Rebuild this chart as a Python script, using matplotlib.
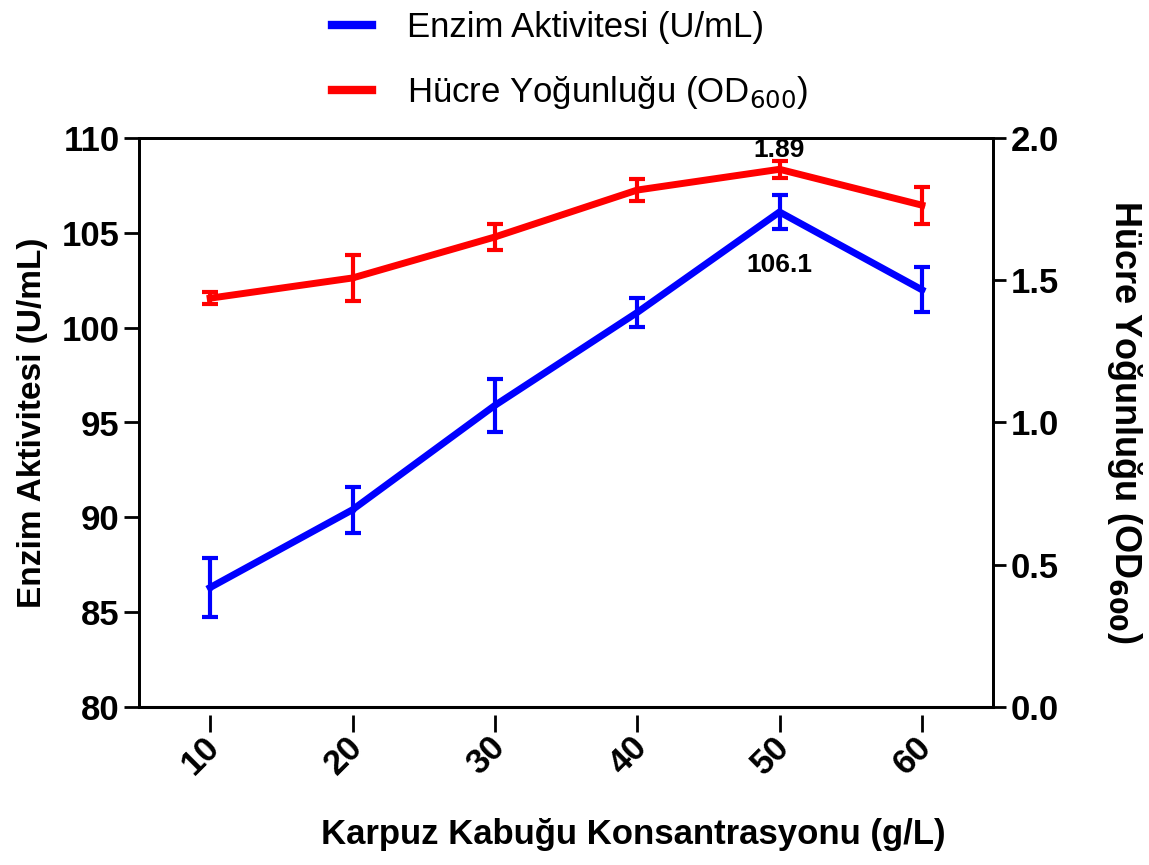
import matplotlib
matplotlib.use("Agg")
import matplotlib.pyplot as plt
import matplotlib.transforms as mtransforms
from matplotlib.lines import Line2D

conc = [10, 20, 30, 40, 50, 60]
enzim = [86.3, 90.4, 95.9, 100.8, 106.1, 102.0]
enzim_err = [1.55, 1.2, 1.4, 0.75, 0.9, 1.2]
od = [1.437, 1.508, 1.652, 1.817, 1.89, 1.764]
od_err = [0.02, 0.08, 0.045, 0.04, 0.03, 0.065]
xticks = [10, 20, 30, 40, 50, 60]
left_ticks = [80, 85, 90, 95, 100, 105, 110]
right_ticks = [0.0, 0.5, 1.0, 1.5, 2.0]

plt.rcParams['font.family'] = ['Liberation Sans', 'DejaVu Sans']

fig = plt.figure(figsize=(11.49, 8.65), dpi=100)
ax = fig.add_axes([139/1149, 1-707/865, (993-139)/1149, (707-138)/865])
ax2 = ax.twinx()

blue = '#0000FF'
red = '#FF0000'

ax.errorbar(conc, enzim, yerr=enzim_err, color=blue, lw=5, elinewidth=3,
            capsize=6, capthick=3, marker='o', ms=3, zorder=3)
ax2.errorbar(conc, od, yerr=od_err, color=red, lw=5, elinewidth=3,
             capsize=6, capthick=3, marker='o', ms=3, zorder=3)

ax.set_xlim(5, 65)
ax.set_ylim(80, 110)
ax2.set_ylim(0, 2.0)
ax.set_xticks(xticks)
ax.set_yticks(left_ticks)
ax2.set_yticks(right_ticks)
ax2.set_yticklabels([f"{v:.1f}" for v in right_ticks])

for a in (ax, ax2):
    for s in a.spines.values():
        s.set_linewidth(2)
ax.spines['bottom'].set_position(('outward', 6))
ax.spines['bottom'].set_visible(False)
ax2.spines['bottom'].set_visible(False)
ax.plot([0, 1], [0, 0], transform=ax.transAxes, color='black', lw=2.2,
        clip_on=False, zorder=5)

ax.tick_params(axis='y', direction='out', length=11, width=2, labelsize=25, pad=3)
ax2.tick_params(axis='y', direction='out', length=9, width=2, labelsize=25, pad=4)
ax.tick_params(axis='x', direction='out', length=12, width=2, labelsize=25, pad=0)
for lab in ax.get_yticklabels() + ax2.get_yticklabels():
    lab.set_fontweight('bold')
offset = mtransforms.ScaledTranslation(-7/100, 2/100, fig.dpi_scale_trans)
for lab in ax.get_xticklabels():
    lab.set_fontweight('bold')
    lab.set_rotation(45)
    lab.set_ha('right')
    lab.set_rotation_mode('anchor')
    lab.set_transform(lab.get_transform() + offset)

ax.set_xlabel('Karpuz Kabuğu Konsantrasyonu (g/L)', fontsize=25, fontweight='bold')
ax.xaxis.set_label_coords((633-139)/854, (707-818)/569)
ax.set_ylabel('Enzim Aktivitesi (U/mL)', fontsize=24, fontweight='bold', labelpad=10)
ax2.set_ylabel('Hücre Yoğunluğu (OD$_{\\mathbf{600}}$)', fontsize=26, fontweight='bold',
               rotation=-90)
ax2.yaxis.set_label_coords((1144-139)/854, (707-422)/569)

ax2.annotate('1.89', (50, od[4]), xytext=(0, 14), textcoords='offset points',
             ha='center', va='center', fontsize=19, fontweight='bold')
ax.annotate('106.1', (50, enzim[4]), xytext=(0, -38), textcoords='offset points',
            ha='center', va='center', fontsize=19, fontweight='bold')

handles = [Line2D([], [], color=blue, lw=6, marker='o', ms=3),
           Line2D([], [], color=red, lw=6, marker='o', ms=3)]
fig.legend(handles, ['Enzim Aktivitesi (U/mL)', 'Hücre Yoğunluğu (OD$_{600}$)'],
           loc='upper left', bbox_to_anchor=(301/1149, 1.023), frameon=False,
           fontsize=25, handlelength=1.15, handletextpad=1.0, labelspacing=0.85)

fig.savefig('out.png', dpi=100)
